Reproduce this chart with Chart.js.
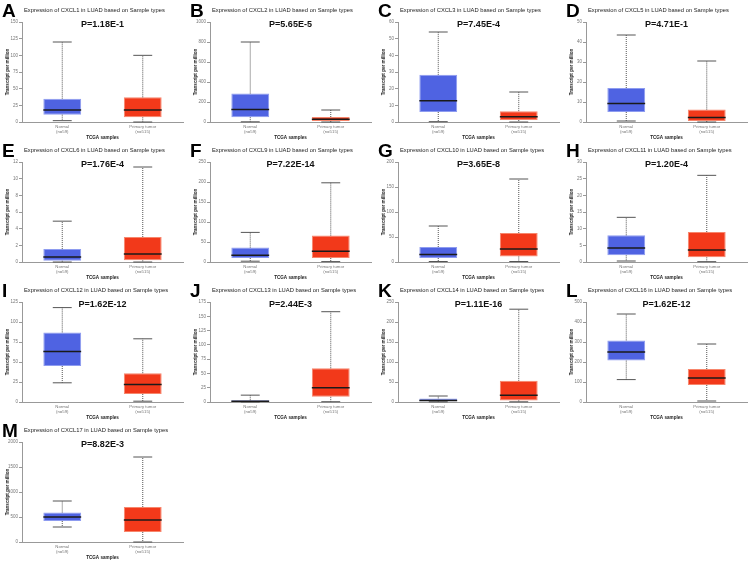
<!DOCTYPE html>
<html>
<head>
<meta charset="utf-8">
<script src="https://cdn.jsdelivr.net/npm/chart.js@4"></script>
<style>
  body { margin: 0; background: #fff; }
  #fig { position: relative; width: 753px; height: 565px; font-family: 'Liberation Sans', Arial, sans-serif; }
  .panel { position: absolute; width: 188px; height: 140px; }
  .panel canvas { position: absolute; left: 0; top: 0; }
  .letter { position: absolute; left: 2px; top: 1px; font-size: 19px; font-weight: bold; line-height: 19px; color: #000; }
  .title { position: absolute; left: 24px; top: 6px; font-size: 5.8px; line-height: 8px; color: #222; white-space: nowrap; }
</style>
</head>
<body>
<div id="fig"></div>
<script>
const letters = ['A', 'B', 'C', 'D', 'E', 'F', 'G', 'H', 'I', 'J', 'K', 'L', 'M']
const genes = ['CXCL1', 'CXCL2', 'CXCL3', 'CXCL5', 'CXCL6', 'CXCL9', 'CXCL10', 'CXCL11', 'CXCL12', 'CXCL13', 'CXCL14', 'CXCL16', 'CXCL17']
const pValues = ['1.18E-1', '5.65E-5', '7.45E-4', '4.71E-1', '1.76E-4', '7.22E-14', '3.65E-8', '1.20E-4', '1.62E-12', '2.44E-3', '1.11E-16', '1.62E-12', '8.82E-3']
const yMax = [150, 1000, 60, 50, 12, 250, 200, 30, 125, 175, 250, 500, 2000]
const yStep = [25, 200, 10, 10, 2, 50, 50, 5, 25, 25, 50, 100, 500]
const categories = [['Normal', '(n=59)'], ['Primary tumor', '(n=515)']]

// [min, q1, median, q3, max]
const normalStats = [
  [2, 11, 18, 35, 120],
  [2, 48, 125, 285, 800],
  [0.2, 6, 12.7, 28.3, 54],
  [0.5, 5, 9.2, 17, 43.5],
  [0, 0.15, 0.6, 1.55, 4.9],
  [2, 10, 17, 36, 74],
  [1, 8, 15, 30, 72],
  [0.3, 2, 4.2, 8, 13.4],
  [24, 45, 63, 87, 118],
  [0, 0.3, 1.5, 3, 12],
  [0.5, 2, 4, 9, 15],
  [112, 207, 250, 308, 440],
  [300, 420, 500, 590, 820]
]
const tumorStats = [
  [0, 7, 18, 37, 100],
  [0, 10, 28, 50, 120],
  [0, 1.2, 3.2, 6.5, 18],
  [0, 0.5, 2.2, 6.2, 30.5],
  [0, 0.2, 0.95, 3.0, 11.4],
  [1, 10, 27, 66, 198],
  [1, 11, 26, 58, 166],
  [0.1, 1.4, 3.6, 9, 26],
  [1, 10, 22, 36, 79],
  [0.5, 9, 25, 59, 158],
  [0.5, 4, 17, 53, 232],
  [5, 85, 120, 165, 290],
  [0, 200, 440, 700, 1700]
]

const font = "'Liberation Sans', Arial, sans-serif"

// whiskers, medians and the P value
const boxPlugin = {
  id: 'box',
  afterDatasetsDraw(chart, args, opts) {
    const { ctx, chartArea } = chart
    const y = chart.scales.y
    const meta = chart.getDatasetMeta(0)
    opts.stats.forEach((s, i) => {
      const bar = meta.data[i]
      const cx = bar.x
      const half = bar.width / 2
      const cap = half / 2
      ctx.save()
      ctx.strokeStyle = '#555'
      ctx.lineWidth = 1
      ctx.setLineDash([1, 1])
      ctx.beginPath()
      ctx.moveTo(cx, y.getPixelForValue(s[3]))
      ctx.lineTo(cx, y.getPixelForValue(s[4]))
      ctx.moveTo(cx, y.getPixelForValue(s[1]))
      ctx.lineTo(cx, y.getPixelForValue(s[0]))
      ctx.stroke()
      ctx.setLineDash([])
      ctx.beginPath()
      ctx.moveTo(cx - cap, y.getPixelForValue(s[4]))
      ctx.lineTo(cx + cap, y.getPixelForValue(s[4]))
      ctx.moveTo(cx - cap, y.getPixelForValue(s[0]))
      ctx.lineTo(cx + cap, y.getPixelForValue(s[0]))
      ctx.stroke()
      ctx.strokeStyle = '#1a1a1a'
      ctx.lineWidth = 1.5
      ctx.beginPath()
      ctx.moveTo(cx - half, y.getPixelForValue(s[2]))
      ctx.lineTo(cx + half, y.getPixelForValue(s[2]))
      ctx.stroke()
      ctx.restore()
    })
    ctx.save()
    ctx.fillStyle = '#111'
    ctx.font = 'bold 9px ' + font
    ctx.textAlign = 'center'
    ctx.textBaseline = 'middle'
    ctx.fillText('P=' + opts.p, (chartArea.left + chartArea.right) / 2, chartArea.top + 2.5)
    ctx.restore()
  }
}

const fig = document.getElementById('fig')

genes.forEach((gene, i) => {
  const panel = document.createElement('div')
  panel.className = 'panel'
  panel.style.left = (i % 4) * 188 + 'px'
  panel.style.top = Math.floor(i / 4) * 140 + 'px'
  const canvas = document.createElement('canvas')
  canvas.width = 188
  canvas.height = 140
  panel.appendChild(canvas)
  const letter = document.createElement('div')
  letter.className = 'letter'
  letter.textContent = letters[i]
  panel.appendChild(letter)
  const title = document.createElement('div')
  title.className = 'title'
  title.textContent = 'Expression of ' + gene + ' in LUAD based on Sample types'
  panel.appendChild(title)
  fig.appendChild(panel)

  const stats = [normalStats[i], tumorStats[i]]

  new Chart(canvas, {
    type: 'bar',
    data: {
      labels: categories,
      datasets: [{
        data: stats.map(s => [s[1], s[3]]),
        backgroundColor: ['#4f63e2', '#f2391a'],
        borderColor: ['#8e9cf0', '#f7866c'],
        borderWidth: 1,
        borderSkipped: false,
        barPercentage: 0.47,
        categoryPercentage: 1
      }]
    },
    options: {
      responsive: false,
      animation: false,
      layout: { padding: { top: 22, right: 5, left: 0, bottom: 0 } },
      plugins: {
        legend: { display: false },
        tooltip: { enabled: false },
        box: { stats: stats, p: pValues[i] }
      },
      scales: {
        x: {
          afterFit: s => { s.height = 18 },
          grid: { display: false, drawTicks: false, tickLength: 0 },
          border: { color: '#999' },
          ticks: { font: { size: 4.3, family: font, lineHeight: 1.0 }, color: '#777', padding: 3, maxRotation: 0 },
          title: { display: true, text: 'TCGA samples', font: { size: 4.6, weight: 'bold', family: font }, color: '#222', padding: 0 }
        },
        y: {
          min: 0,
          max: yMax[i],
          afterFit: s => { s.width = 22 },
          grid: { drawOnChartArea: false, tickLength: 3, color: '#999' },
          border: { color: '#999' },
          ticks: { stepSize: yStep[i], font: { size: 4.5, family: font }, color: '#777', padding: 1, callback: v => v },
          title: { display: true, text: 'Transcript per million', font: { size: 4.6, weight: 'bold', family: font }, color: '#222', padding: { top: 5, bottom: 0 } }
        }
      }
    },
    plugins: [boxPlugin]
  })
})
</script>
</body>
</html>
